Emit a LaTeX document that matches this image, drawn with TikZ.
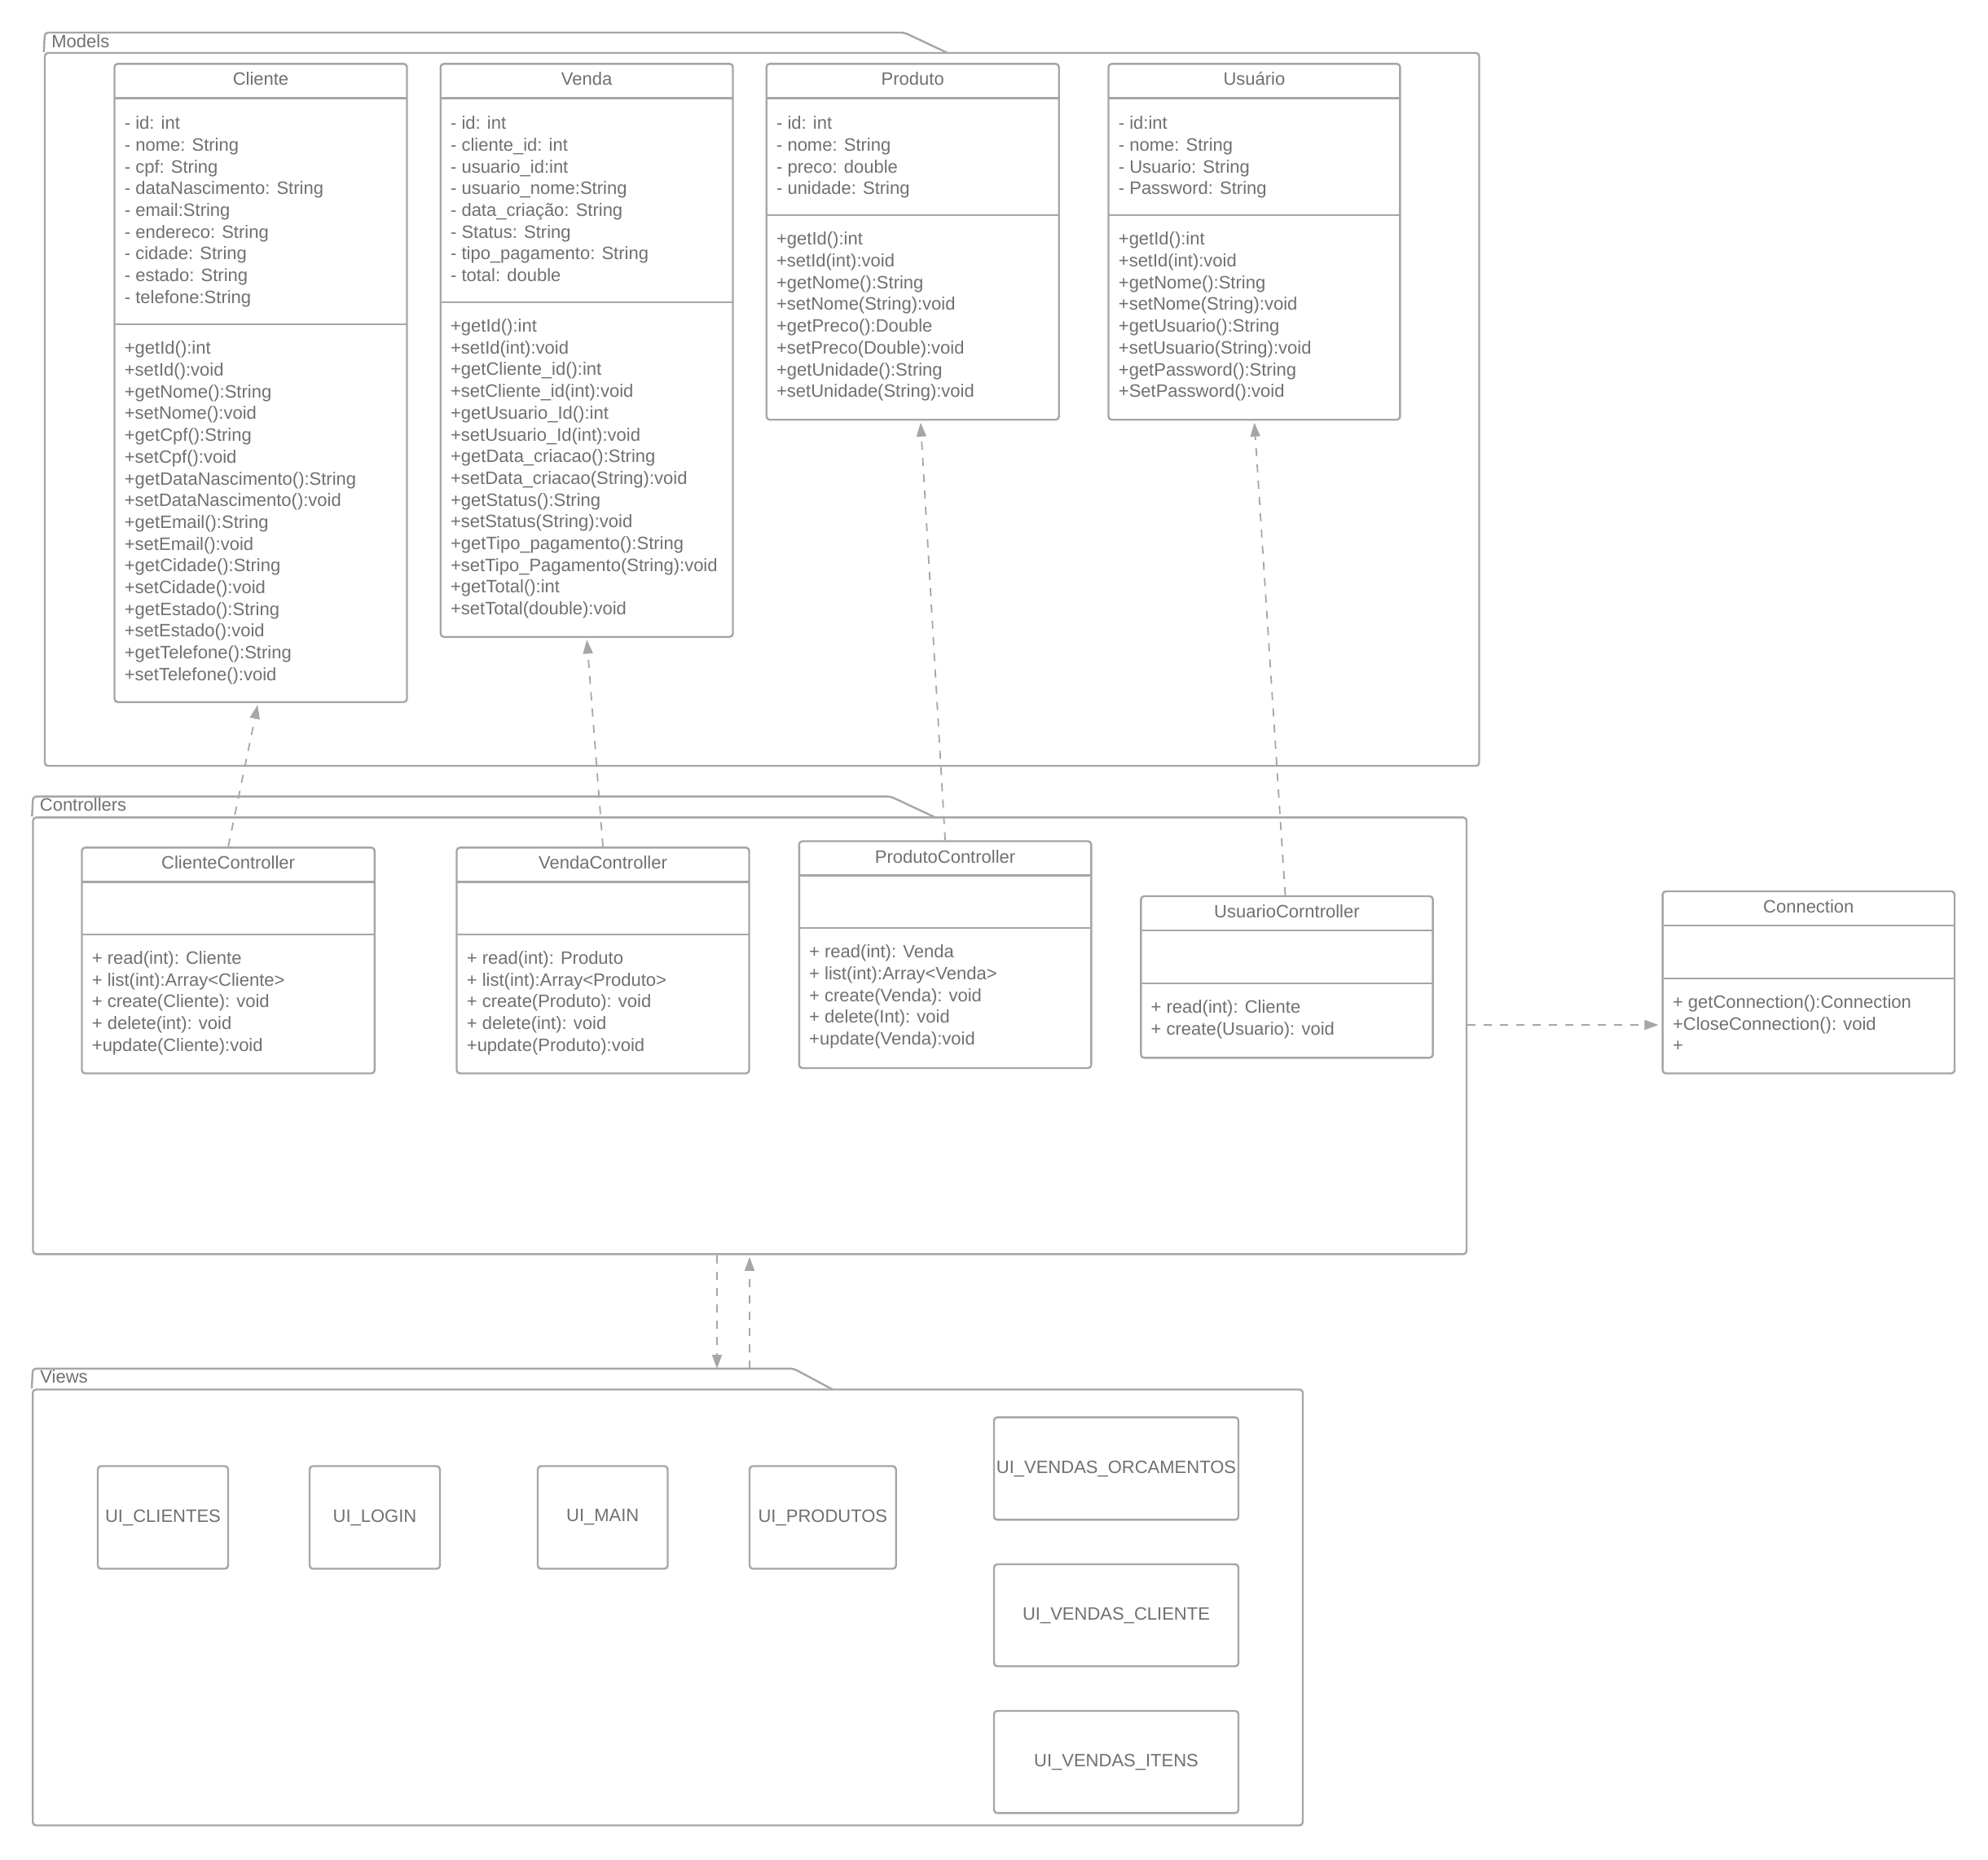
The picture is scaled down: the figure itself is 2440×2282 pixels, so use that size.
\documentclass[tikz,border=0pt]{standalone}
\usepackage{fontspec}
\setmainfont{Liberation Sans}
\usetikzlibrary{arrows.meta,calc,fit}
\definecolor{linegray}{RGB}{166,166,166}
\definecolor{txtgray}{RGB}{112,112,112}
\newcommand\umlfont{\fontsize{11}{13.35}\selectfont}
\tikzset{
  classbox/.style={draw=linegray, line width=1.2pt, rounded corners=2pt, inner sep=0pt},
  sepline/.style={draw=linegray, line width=1.2pt},
  pkgbox/.style={draw=linegray, line width=1.2pt, rounded corners=2pt, inner sep=0pt},
  pkgtab/.style={draw=linegray, line width=1.2pt, rounded corners=2pt},
  viewbox/.style={draw=linegray, line width=1.2pt, rounded corners=2pt, inner sep=0pt,
    text=txtgray, font=\umlfont},
  titletext/.style={anchor=base, inner sep=0pt, text=txtgray, font=\umlfont},
  labeltext/.style={anchor=base west, inner sep=0pt, text=txtgray, font=\umlfont},
  % member lists hang from a fixed 10pt strut on their first line
  membertext/.style={anchor=north west, align=left, inner sep=0pt, text=txtgray, font=\umlfont,
    execute at begin node={\rule{0pt}{10pt}}},
  dep/.style={draw=linegray, line width=0.9pt, dash pattern=on 5pt off 5pt,
    -{Triangle[length=8.5pt,width=6pt]}},
}
% class box: name, left, top, right, bottom, operations separator, title, attributes, operations
\newcommand\umlclass[9]{%
  \node[classbox, fit={(#2,#3) (#4,#5)}] (#1) {};
  \draw[sepline] (#2,#3+42) -- (#4,#3+42);
  \draw[sepline] (#2,#6) -- (#4,#6);
  \node[titletext] (#1-t) at ({(#2+#4)/2},#3+26.5) {#7};
  \node[membertext] (#1-a) at (#2+12,#3+64) {#8};
  \node[membertext] (#1-o) at (#2+12,#6+20.5) {#9};
}
\begin{document}
\begin{tikzpicture}[x=0.5pt,y=-0.5pt]
\fill[white] (0,0) rectangle (2440,2282);
\useasboundingbox (0,0) rectangle (2440,2282);

% ---------- packages ----------
\node[pkgbox, fit={(55,65) (1815.5,940)}] (models) {};
\draw[pkgtab] (models.north west) -- (55,40) -- (1110,40) -- (1163,65);
\node[labeltext] (models-label) at (63,58.3) {Models};

\node[pkgbox, fit={(40.5,1003.3) (1800,1539.3)}] (ctrl) {};
\draw[pkgtab] (ctrl.north west) -- (40.5,977.6) -- (1093,977.6) -- (1148,1003.3);
\node[labeltext] (ctrl-label) at (48.5,995) {Controllers};

\node[pkgbox, fit={(40.2,1705.5) (1599,2240.5)}] (views) {};
\draw[pkgtab] (views.north west) -- (40.2,1679.8) coordinate (viewstab) -- (974,1679.8) -- (1022,1705.5);
\node[labeltext] (views-label) at (49,1697) {Views};

% ---------- models ----------
\umlclass{cliente}{140.5}{78.3}{499.5}{861.7}{398}{Cliente}
{- id: int\\- nome: String\\- cpf: String\\- dataNascimento: String\\- email:String\\- endereco: String\\- cidade: String\\- estado: String\\- telefone:String}
{+getId():int\\+setId():void\\+getNome():String\\+setNome():void\\+getCpf():String\\+setCpf():void\\+getDataNascimento():String\\+setDataNascimento():void\\+getEmail():String\\+setEmail():void\\+getCidade():String\\+setCidade():void\\+getEstado():String\\+setEstado():void\\+getTelefone():String\\+setTelefone():void}

\umlclass{venda}{540.7}{78.3}{899.5}{781.7}{370.7}{Venda}
{- id: int\\- cliente\_id: int\\- usuario\_id:int\\- usuario\_nome:String\\- data\_criação: String\\- Status: String\\- tipo\_pagamento: String\\- total: double}
{+getId():int\\+setId(int):void\\+getCliente\_id():int\\+setCliente\_id(int):void\\+getUsuario\_Id():int\\+setUsuario\_Id(int):void\\+getData\_criacao():String\\+setData\_criacao(String):void\\+getStatus():String\\+setStatus(String):void\\+getTipo\_pagamento():String\\+setTipo\_Pagamento(String):void\\+getTotal():int\\+setTotal(double):void}

\umlclass{produto}{940.7}{78.3}{1299.7}{515.2}{264}{Produto}
{- id: int\\- nome: String\\- preco: double\\- unidade: String}
{+getId():int\\+setId(int):void\\+getNome():String\\+setNome(String):void\\+getPreco():Double\\+setPreco(Double):void\\+getUnidade():String\\+setUnidade(String):void}

\umlclass{usuario}{1360.5}{78.3}{1718.4}{515.2}{264}{Usuário}
{- id:int\\- nome: String\\- Usuario: String\\- Password: String}
{+getId():int\\+setId(int):void\\+getNome():String\\+setNome(String):void\\+getUsuario():String\\+setUsuario(String):void\\+getPassword():String\\+SetPassword():void}

% ---------- controllers ----------
\umlclass{clictrl}{100.5}{1040.3}{459.8}{1317.5}{1146.7}{ClienteController}{}
{+ read(int): Cliente\\+ list(int):Array<Cliente>\\+ create(Cliente): void\\+ delete(int): void\\+update(Cliente):void}

\umlclass{venctrl}{560.5}{1040.3}{919.5}{1317.5}{1146.7}{VendaController}{}
{+ read(int): Produto\\+ list(int):Array<Produto>\\+ create(Produto): void\\+ delete(int): void\\+update(Produto):void}

\umlclass{prodctrl}{980.8}{1032.5}{1339.3}{1311}{1139}{ProdutoController}{}
{+ read(int): Venda\\+ list(int):Array<Venda>\\+ create(Venda): void\\+ delete(Int): void\\+update(Venda):void}

\umlclass{usuctrl}{1400.3}{1100}{1758.6}{1298.3}{1206.7}{UsuarioCorntroller}{}
{+ read(int): Cliente\\+ create(Usuario): void}

\umlclass{conn}{2040.6}{1094}{2399}{1317.5}{1200.7}{Connection}{}
{+ getConnection():Connection\\+CloseConnection(): void\\+}

% ---------- views ----------
\node[viewbox, minimum width=80pt, minimum height=63pt] (uicli) at (200,1862.5) {UI\_CLIENTES};
\node[viewbox, minimum width=80pt, minimum height=63pt] (uilogin) at (460,1862.5) {UI\_LOGIN};
\node[viewbox, minimum width=79.75pt, minimum height=63pt] (uimain) at (739.75,1862.5) {UI\_MAIN};
\node[viewbox, minimum width=89.85pt, minimum height=63pt] (uiprod) at (1009.85,1862.5) {UI\_PRODUTOS};
\node[viewbox, minimum width=150pt, minimum height=62.9pt] (uiorc) at (1370,1802.5) {UI\_VENDAS\_ORCAMENTOS};
\node[viewbox, minimum width=150pt, minimum height=62.6pt] (uivcli) at (1370,1982.6) {UI\_VENDAS\_CLIENTE};
\node[viewbox, minimum width=150pt, minimum height=62.7pt] (uiitens) at (1370,2162.7) {UI\_VENDAS\_ITENS};

% ---------- dependencies ----------
\draw[dep, shorten >=1.2pt] (clictrl.north) -- ($(cliente.south)+(-3.3,0)$);
\draw[dep, shorten >=1.2pt] (venctrl.north) -- (venda.south);
\draw[dep, shorten >=1.2pt] (prodctrl.north) -- ($(produto.south)+(9.6,0)$);
\draw[dep, shorten >=1.2pt] ($(usuctrl.north)+(-2,0)$) -- (usuario.south);

\coordinate (ctrlport) at (1801,1258);
\draw[dep, shorten >=2pt] (ctrlport) -- (ctrlport -| conn.west);

\coordinate (downx) at (880,0);
\coordinate (upx) at (920,0);
\draw[dep] (downx |- ctrl.south) -- (downx |- viewstab);
\draw[dep, shorten >=1.2pt] (upx |- viewstab) -- (upx |- ctrl.south);
\end{tikzpicture}
\end{document}
